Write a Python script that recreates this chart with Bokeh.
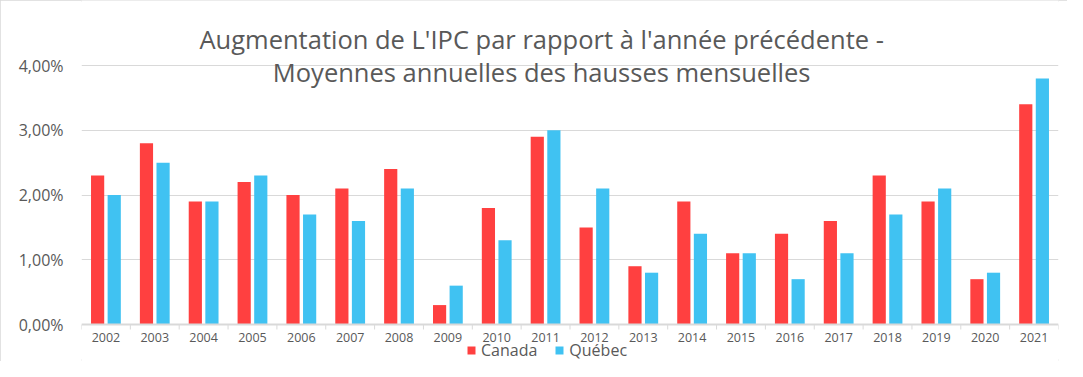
from bokeh.plotting import figure
from bokeh.models import (ColumnDataSource, Range1d, FixedTicker, CustomJSTickFormatter,
                          Legend, LegendItem, Label, LabelSet, Span)
from bokeh.core.properties import value
from bokeh.transform import dodge
from bokeh.embed import file_html
from bokeh.resources import INLINE

years = [str(y) for y in range(2002, 2022)]
canada = [2.3, 2.8, 1.9, 2.2, 2.0, 2.1, 2.4, 0.3, 1.8, 2.9, 1.5, 0.9, 1.9, 1.1, 1.4, 1.6, 2.3, 1.9, 0.7, 3.4]
quebec = [2.0, 2.5, 1.9, 2.3, 1.7, 1.6, 2.1, 0.6, 1.3, 3.0, 2.1, 0.8, 1.4, 1.1, 0.7, 1.1, 1.7, 2.1, 0.8, 3.8]
y_ticks = [0, 1, 2, 3, 4]
title_lines = ["Augmentation de L'IPC par rapport à l'année précédente -",
               "Moyennes annuelles des hausses mensuelles"]
series_names = ["Canada", "Québec"]

RED = "#FF4040"
CYAN = "#40C2F2"
TXT = "#595959"
GRID = "#D9D9D9"
FONT = "Open Sans"

n = len(years)
PX = 64.75                      # pixels per 1 % on the value scale
slot = [i + 0.5 for i in range(n)]  # category centres
bounds = list(range(n + 1))         # category boundaries
src = ColumnDataSource(dict(slot=slot, year=years, canada=canada, quebec=quebec))
tick_src = ColumnDataSource(dict(x=bounds))

# the frame covers the full canvas height so that title, year labels and legend,
# which are annotations clipped to the frame, all stay visible
p = figure(x_range=Range1d(0, n), y_range=Range1d(-37 / PX, 324 / PX),
           width=1067, height=361, output_backend="svg", toolbar_location=None,
           min_border_left=81, min_border_right=9, min_border_top=0, min_border_bottom=0,
           background_fill_color="white", border_fill_color="white",
           outline_line_color=None, x_axis_location=None,
           styles={"outline": "2px solid #D9D9D9", "outline-offset": "-2px"})

p.xgrid.visible = False
p.ygrid.grid_line_color = GRID
p.ygrid.grid_line_width = 1
p.ygrid.ticker = FixedTicker(ticks=y_ticks[1:])

r1 = p.vbar(x=dodge("slot", -0.17), top="canada", width=0.27, source=src,
            fill_color=RED, line_color=None)
r2 = p.vbar(x=dodge("slot", 0.17), top="quebec", width=0.27, source=src,
            fill_color=CYAN, line_color=None)

# category axis: base line, boundary ticks and year labels
p.add_layout(Span(location=0, dimension="width", line_color=GRID, line_width=2))
p.segment(x0="x", x1="x", y0=0, y1=-5 / PX, source=tick_src, line_color=GRID, line_width=1)
p.add_layout(LabelSet(x="slot", y=-13 / PX, text="year", source=src, text_align="center",
                      text_baseline="middle", text_font=value(FONT),
                      text_font_size=value("12.5px"), text_color=TXT))

ya = p.yaxis[0]
ya.ticker = FixedTicker(ticks=y_ticks)
ya.formatter = CustomJSTickFormatter(code="return tick.toFixed(2).replace('.', ',') + '%';")
ya.axis_line_color = None
ya.major_tick_line_color = None
ya.minor_tick_line_color = None
ya.major_label_standoff = 12
ya.major_label_text_font = FONT
ya.major_label_text_font_size = "16px"
ya.major_label_text_color = TXT

for txt, yy in zip(title_lines, [286 / PX, 253 / PX]):
    p.add_layout(Label(x=9.42, y=yy, text=txt, text_align="center",
                       text_baseline="middle", text_font=FONT,
                       text_font_size="25.5px", text_color=TXT))

legend = Legend(items=[LegendItem(label=series_names[0], renderers=[r1]),
                       LegendItem(label=series_names[1], renderers=[r2])],
                orientation="horizontal", location=(385, 0))
legend.label_text_font = FONT
legend.label_text_font_size = "16px"
legend.label_text_color = TXT
legend.glyph_width = 10
legend.glyph_height = 10
legend.label_height = 16
legend.label_standoff = 5
legend.spacing = 17
legend.padding = 0
legend.margin = 0
legend.border_line_color = None
legend.background_fill_alpha = 0
p.add_layout(legend)

open("out.html", "w").write(file_html(p, INLINE))
